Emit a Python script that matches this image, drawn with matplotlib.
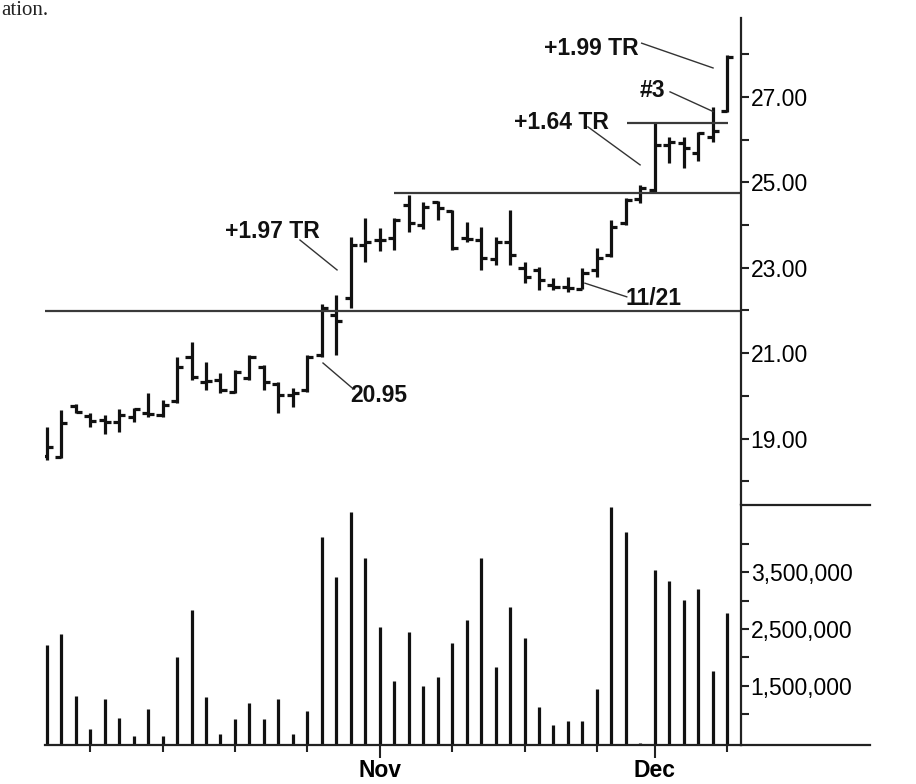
import matplotlib
matplotlib.use('Agg')
import matplotlib.pyplot as plt
import numpy as np
import pandas as pd

plt.rcParams['font.family'] = ['Liberation Sans', 'DejaVu Sans']

# ---------------- data ----------------
dates = pd.bdate_range('2003-10-01', '2003-12-08')
dates = dates[dates != pd.Timestamp('2003-11-27')]   # Thanksgiving

opens = [18.60, 18.58, 19.76, 19.52, 19.43, 19.40, 19.50, 19.60, 19.55, 19.87,
         20.92, 20.33, 20.37, 20.10, 20.41, 20.67, 20.28, 20.02, 20.14, 20.95,
         21.90, 22.30, 23.53, 23.65, 23.69, 24.47, 24.00, 24.55, 24.34, 23.70,
         23.65, 23.20, 23.61, 23.00, 22.95, 22.60, 22.55, 22.50, 22.95, 23.30,
         24.04, 24.60, 24.82, 25.88, 25.92, 25.68, 26.07, 26.68]
highs = [19.28, 19.67, 19.80, 19.60, 19.55, 19.70, 19.72, 20.07, 19.90, 20.92,
         21.27, 20.80, 20.53, 20.60, 20.96, 20.72, 20.33, 20.18, 20.96, 22.15,
         22.36, 23.73, 24.17, 23.93, 24.16, 24.70, 24.55, 24.57, 24.35, 24.08,
         23.96, 23.72, 24.35, 23.14, 23.03, 22.76, 22.79, 22.99, 23.46, 24.12,
         24.63, 24.94, 26.38, 26.07, 26.07, 26.19, 26.77, 27.98]
lows = [18.50, 18.55, 19.60, 19.27, 19.10, 19.15, 19.40, 19.50, 19.50, 19.83,
        20.37, 20.14, 20.06, 20.06, 20.37, 20.14, 19.60, 19.75, 20.10, 20.92,
        20.96, 22.05, 23.14, 23.40, 23.42, 23.85, 23.90, 24.12, 23.42, 23.61,
        22.95, 23.07, 23.07, 22.64, 22.48, 22.48, 22.44, 22.50, 22.79, 23.26,
        24.00, 24.51, 24.75, 25.45, 25.33, 25.49, 25.95, 26.66]
closes = [18.80, 19.37, 19.63, 19.42, 19.38, 19.55, 19.70, 19.58, 19.78, 20.68,
          20.45, 20.35, 20.14, 20.57, 20.92, 20.33, 20.02, 20.06, 20.90, 22.05,
          21.75, 23.53, 23.61, 23.65, 24.12, 24.04, 24.43, 24.39, 23.46, 23.68,
          23.22, 23.60, 23.30, 22.78, 22.71, 22.55, 22.52, 22.87, 23.22, 23.96,
          24.59, 24.86, 25.88, 25.95, 25.80, 26.15, 26.20, 27.94]
volumes = [2.21, 2.41, 1.32, 0.74, 1.27, 0.93, 0.62, 1.10, 0.62, 2.01,
           2.84, 1.31, 0.65, 0.91, 1.19, 0.91, 1.27, 0.65, 1.05, 4.11,
           3.42, 4.56, 3.74, 2.53, 1.59, 2.44, 1.50, 1.65, 2.26, 2.66,
           3.74, 1.84, 2.89, 2.35, 1.13, 0.82, 0.88, 0.88, 1.44, 4.65,
           4.20, 0.50, 3.54, 3.35, 3.01, 3.21, 1.76, 2.78]  # millions of shares

price_ticks = [19, 21, 23, 25, 27]
volume_ticks = [1_500_000, 2_500_000, 3_500_000]

# horizontal levels: (price, first bar, last bar)
levels = [(21.98, -0.2, 47.95), (24.74, 24.0, 47.95), (26.38, 40.05, 47.05)]

# annotations: text, text position (bar, price), line start, line end
annotations = [
    ('+1.99 TR', (40.85, 28.14), (41.09, 28.26), (46.02, 27.68), 'right'),
    ('#3',        (41.84, 27.16), (43.05, 27.12), (46.02, 26.66), 'center'),
    ('+1.64 TR', (35.52, 26.40), (37.38, 26.30), (40.98, 25.41), 'center'),
    ('+1.97 TR', (15.56, 23.86), (17.49, 23.65), (20.05, 22.95), 'center'),
    ('20.95',    (22.95, 20.02), (19.08, 20.77), (21.08, 20.19), 'center'),
    ('11/21',    (41.94, 22.29), (37.17, 22.64), (40.06, 22.32), 'center'),
]

# ---------------- figure ----------------
W, H = 916, 784
fig = plt.figure(figsize=(W / 100, H / 100), dpi=100)
left, right = 45 / W, 741 / W
ax1 = fig.add_axes([left, (H - 505) / H, right - left, (505 - 18) / H])
ax2 = fig.add_axes([left, (H - 745) / H, right - left, (745 - 505) / H], sharex=ax1)

x = np.arange(len(dates))
ink = '#111111'
lw = 2.3
half = 0.42

# OHLC bars
ax1.vlines(x, lows, highs, color=ink, lw=lw)
ax1.hlines(opens, x - half, x, color=ink, lw=lw)
ax1.hlines(closes, x, x + half, color=ink, lw=lw)

for price, x0, x1 in levels:
    ax1.plot([x0, x1], [price, price], color='#3a3a3a', lw=1.6, solid_capstyle='butt')

for text, tpos, p0, p1, ha in annotations:
    ax1.plot([p0[0], p1[0]], [p0[1], p1[1]], color='#333333', lw=1.0)
    ax1.text(tpos[0], tpos[1], text, ha=ha, va='center', fontsize=16.5,
             fontweight='bold', color=ink)

ax1.set_xlim(-0.12, 47.95)
ax1.set_ylim(17.445, 28.85)
for s in ['left', 'top', 'bottom']:
    ax1.spines[s].set_visible(False)
ax1.spines['right'].set_linewidth(1.6)
ax1.spines['right'].set_color('#222222')
ax1.yaxis.tick_right()
ax1.set_yticks(price_ticks)
ax1.set_yticklabels([f'{p:.2f}' for p in price_ticks])
ax1.set_yticks(np.arange(18, 29, 1), minor=True)
ax1.tick_params(axis='y', which='both', direction='out', length=6, width=1.5,
                color='#222222', labelsize=16.5, pad=1)
ax1.tick_params(axis='x', which='both', bottom=False, labelbottom=False)

# volume
vol = np.array(volumes) * 1e6
ax2.vlines(x, 0, vol, color=ink, lw=lw)
ax2.set_ylim(0.46e6, 4.68e6)
for s in ['left', 'top']:
    ax2.spines[s].set_visible(False)
for s in ['right', 'bottom']:
    ax2.spines[s].set_linewidth(1.6)
    ax2.spines[s].set_color('#222222')
ax2.yaxis.tick_right()
ax2.set_yticks(volume_ticks)
ax2.set_yticklabels([f'{v:,.0f}' for v in volume_ticks])
ax2.set_yticks([1e6, 2e6, 3e6, 4e6], minor=True)
ax2.tick_params(axis='y', which='both', direction='out', length=6, width=1.5,
                color='#222222', labelsize=16.5, pad=1)

# x ticks: Mondays (minor) and first trading day of each month (labelled)
months = pd.Series(dates.month)
month_start = [i for i in range(1, len(dates)) if months[i] != months[i - 1]]
mondays = [i for i, d in enumerate(dates) if d.weekday() == 0 and i not in month_start]
ax2.set_xticks(month_start)
ax2.set_xticklabels([dates[i].strftime('%b') for i in month_start],
                    fontsize=16.5, fontweight='bold')
ax2.set_xticks(mondays, minor=True)
ax2.tick_params(axis='x', which='major', direction='out', length=9, width=1.5,
                color='#222222', pad=1)
ax2.tick_params(axis='x', which='minor', direction='out', length=5, width=1.5,
                color='#222222')

# extended frame lines to the right of the axis
ext = (870 - 45) / (741 - 45)
ax2.axhline(0.46e6, xmin=1, xmax=ext, color='#222222', lw=1.6, clip_on=False)
ax2.axhline(4.68e6, xmin=1, xmax=ext, color='#222222', lw=1.6, clip_on=False)

# caption fragment from the source page (top-left corner)
fig.text(0.001, 1 - 1 / H, 'ation.', fontsize=15, family='Liberation Serif',
         va='top', ha='left', color='#222222')

fig.savefig('out.png', dpi=100)
